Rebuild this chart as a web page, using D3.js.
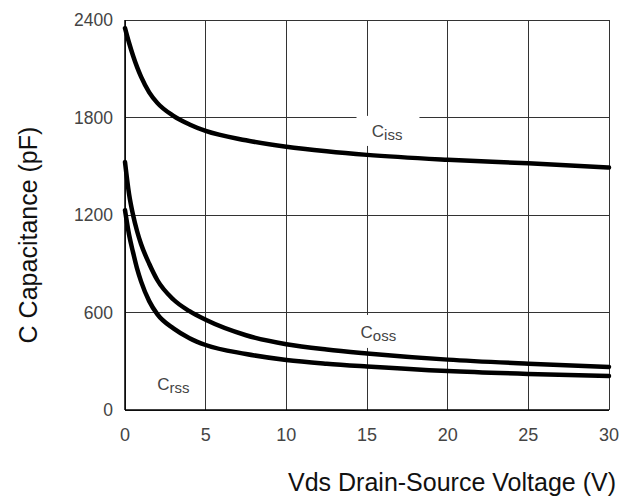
<!DOCTYPE html>
<html lang="en">
<head>
    <meta charset="UTF-8">
    <title>Capacitance vs Vds</title>
    <script src="https://d3js.org/d3.v7.min.js"></script>
    <style>
        body { margin: 0; background: #ffffff; }
        svg { display: block; font-family: "Liberation Sans", Arial, sans-serif; }
    </style>
</head>
<body>
    <div id="chart"></div>
    <script>
        // Values
        const voltage = [0, 0.25, 0.5, 0.75, 1, 1.5, 2, 3, 4, 5, 7.5, 10, 12.5, 15, 20, 25, 30];
        const ciss = [2350, 2260, 2180, 2110, 2050, 1955, 1890, 1810, 1757, 1717, 1660, 1620, 1592, 1570, 1540, 1518, 1492];
        const coss = [1526, 1330, 1200, 1100, 1020, 900, 800, 680, 608, 555, 460, 405, 372, 348, 310, 285, 265];
        const crss = [1230, 1080, 970, 870, 790, 670, 590, 502, 442, 400, 345, 308, 285, 268, 240, 222, 209];
        const xTicks = [0, 5, 10, 15, 20, 25, 30];
        const yTicks = [0, 600, 1200, 1800, 2400];

        const width = 633, height = 500;
        const margin = {left: 125, right: 24, top: 20, bottom: 90};

        const svg = d3.select("#chart").append("svg")
            .attr("width", width)
            .attr("height", height);

        const x = d3.scaleLinear().domain([0, 30]).range([margin.left, width - margin.right]);
        const y = d3.scaleLinear().domain([0, 2400]).range([height - margin.bottom, margin.top]);

        // grid
        const grid = svg.append("g").attr("stroke", "#333").attr("stroke-width", 1).attr("shape-rendering", "crispEdges");
        grid.selectAll("line.v").data(xTicks).enter().append("line")
            .attr("x1", d => x(d)).attr("x2", d => x(d))
            .attr("y1", y(0)).attr("y2", y(2400));
        grid.selectAll("line.h").data(yTicks).enter().append("line")
            .attr("x1", x(0)).attr("x2", x(30))
            .attr("y1", d => y(d)).attr("y2", d => y(d));

        // left / bottom axis lines a bit heavier
        svg.append("line").attr("x1", x(0)).attr("x2", x(0)).attr("y1", y(0)).attr("y2", y(2400))
            .attr("stroke", "#000").attr("stroke-width", 1.5);
        svg.append("line").attr("x1", x(0)).attr("x2", x(30)).attr("y1", y(0)).attr("y2", y(0))
            .attr("stroke", "#000").attr("stroke-width", 1.5);

        // tick labels
        svg.selectAll("text.yt").data(yTicks).enter().append("text")
            .attr("x", x(0) - 12).attr("y", d => y(d) + 6)
            .attr("text-anchor", "end").attr("font-size", 17.5).attr("fill", "#444")
            .text(d => d);
        svg.selectAll("text.xt").data(xTicks).enter().append("text")
            .attr("x", d => x(d)).attr("y", y(0) + 31)
            .attr("text-anchor", "middle").attr("font-size", 18).attr("fill", "#444")
            .text(d => d);

        // axis titles
        svg.append("text")
            .attr("x", 452).attr("y", 491)
            .attr("text-anchor", "middle").attr("font-size", 25).attr("fill", "#111")
            .text("Vds Drain-Source Voltage (V)");
        svg.append("text")
            .attr("transform", "translate(37,235) rotate(-90)")
            .attr("text-anchor", "middle").attr("font-size", 25).attr("fill", "#111")
            .text("C Capacitance (pF)");

        // curve labels sit on white patches that cut the grid
        const labels = [
            {sub: "iss", v: 15.3, c: 1680, box: [14.35, 1810, 18.25, 1625]},
            {sub: "oss", v: 14.6, c: 445, box: [14.0, 585, 17.8, 382]},
            {sub: "rss", v: 2.0, c: 126, box: null}
        ];
        labels.forEach(l => {
            if (l.box) {
                svg.append("rect")
                    .attr("x", x(l.box[0])).attr("y", y(l.box[1]))
                    .attr("width", x(l.box[2]) - x(l.box[0]))
                    .attr("height", y(l.box[3]) - y(l.box[1]))
                    .attr("fill", "#fff");
            }
            const t = svg.append("text")
                .attr("x", x(l.v)).attr("y", y(l.c))
                .attr("font-size", 17).attr("fill", "#444");
            t.append("tspan").text("C");
            t.append("tspan").attr("dy", 3).attr("font-size", 15).text(l.sub);
        });

        // curves
        const line = d3.line()
            .x((d, i) => x(voltage[i]))
            .y(d => y(d))
            .curve(d3.curveMonotoneX);

        [ciss, coss, crss].forEach(s => {
            svg.append("path")
                .datum(s)
                .attr("d", line)
                .attr("fill", "none")
                .attr("stroke", "#000")
                .attr("stroke-width", 4.5)
                .attr("stroke-linecap", "round");
        });
    </script>
</body>
</html>
